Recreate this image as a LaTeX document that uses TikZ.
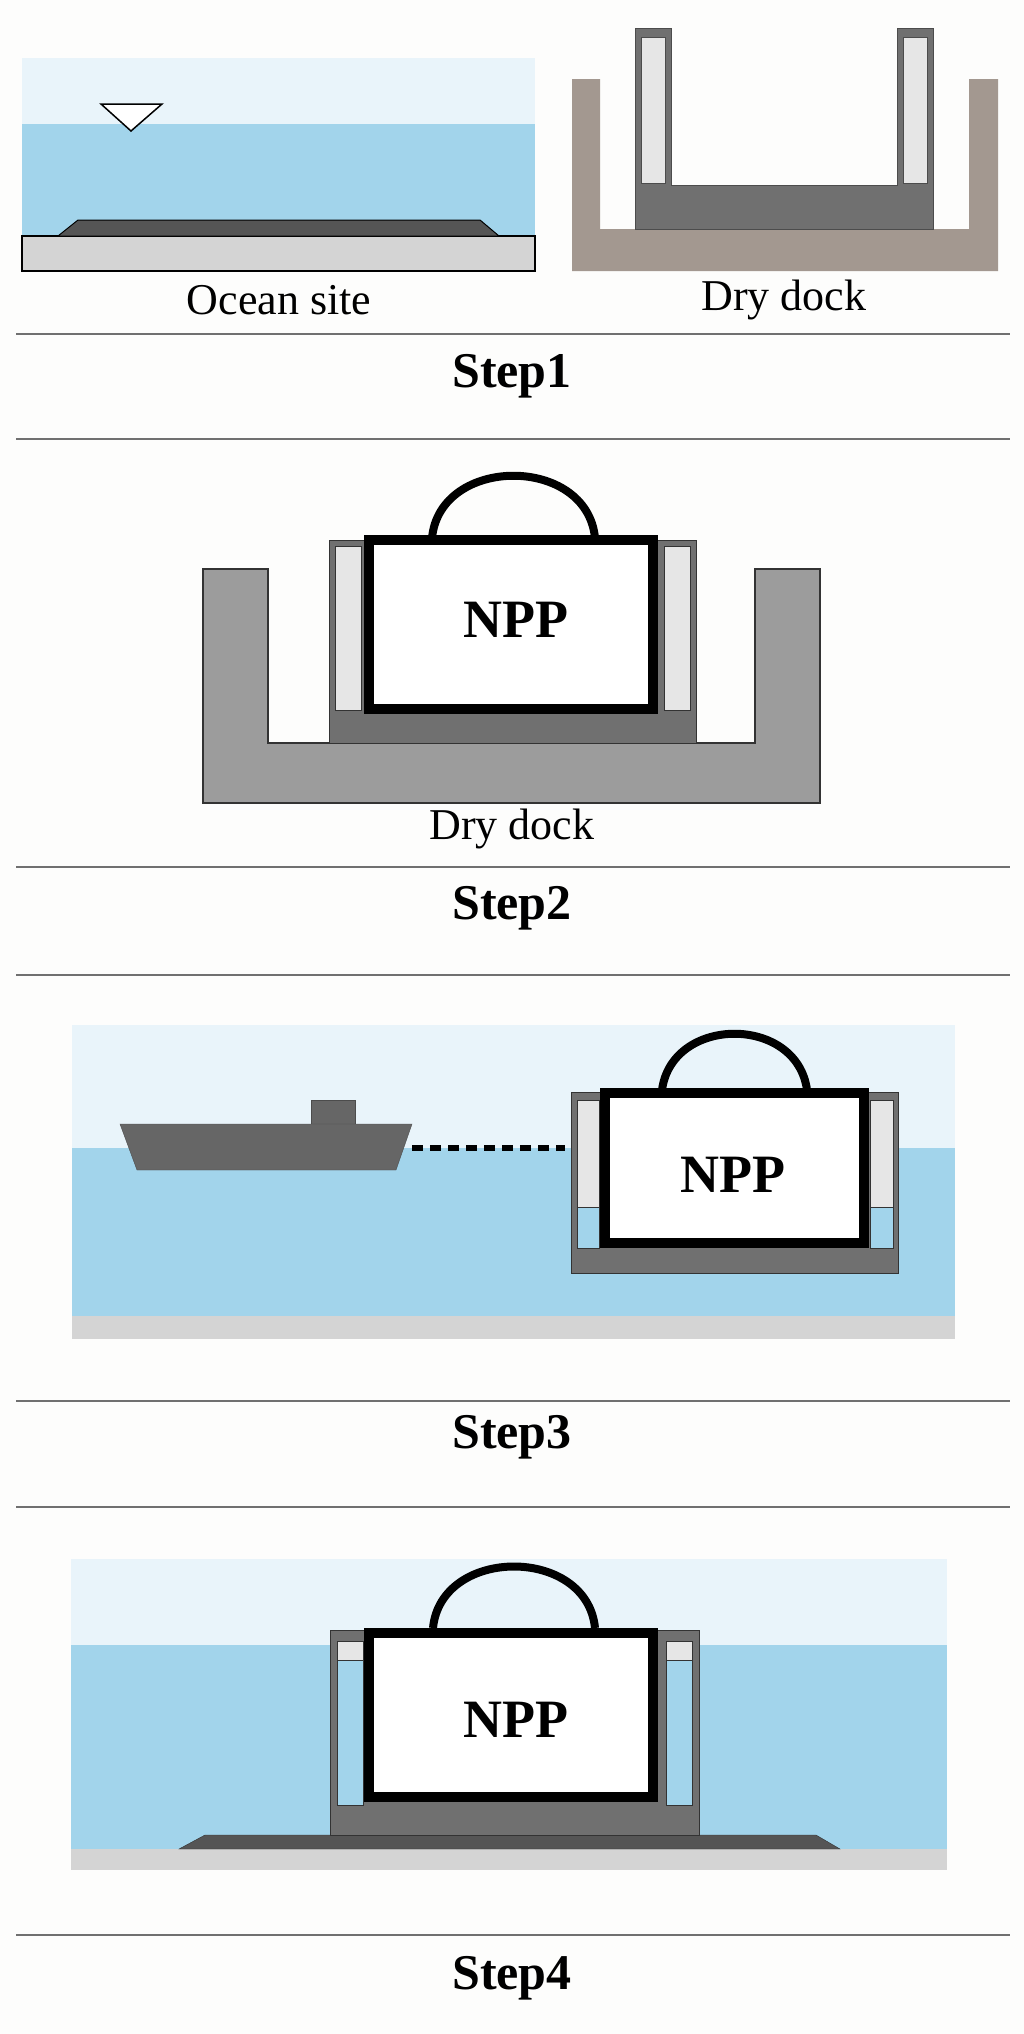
\documentclass[tikz,border=0pt]{standalone}
\usepackage{fontspec}
\setmainfont{Liberation Serif}
\begin{document}
\begin{tikzpicture}[x=1pt,y=-1pt,
  sky/.style={fill=skyc},water/.style={fill=waterc},
  sep/.style={draw=linec,line width=2.5pt},
  lbl/.style={font=\fontsize{44}{46}\selectfont},
  steplbl/.style={font=\bfseries\fontsize{50}{52}\selectfont},
  nppbox/.style={line width=10pt},
  dome/.style={line width=8pt},
  nppt/.style={font=\bfseries\fontsize{54}{56}\selectfont}]
\definecolor{skyc}{HTML}{E9F4FA}
\definecolor{waterc}{HTML}{A2D4EB}
\definecolor{groundc}{HTML}{D4D4D4}
\definecolor{bermc}{HTML}{555555}
\definecolor{brownc}{HTML}{A39890}
\definecolor{bargec}{HTML}{707070}
\definecolor{colc}{HTML}{E6E6E6}
\definecolor{dockc}{HTML}{9C9C9C}
\definecolor{linec}{HTML}{707070}
\definecolor{bgc}{HTML}{FDFDFC}
\useasboundingbox (0,0) rectangle (1024,2034);
\fill[bgc] (0,0) rectangle (1024,2034);
% ---------- Step 1: ocean site
\fill[sky] (22,58) rectangle (535,124);
\fill[water] (22,124) rectangle (535,236);
\draw[fill=groundc,line width=1.2pt] (22,236) rectangle (535,271);
\draw[fill=bermc,line width=1pt] (58,236) -- (78,220) -- (480,220) -- (499,236) -- cycle;
\draw[fill=white,line width=1.5pt] (101,104) -- (162,104) -- (131,131) -- cycle;
\node[lbl] (ocean) at (279,300) {Ocean site};
% ---------- Step 1: dry dock
\fill[brownc] (572,79) -- (600,79) -- (600,229) -- (969,229) -- (969,79) -- (998,79) -- (998,271) -- (572,271) -- cycle;
\draw[fill=bargec,draw=black!70,line width=1pt] (635,29) -- (671,29) -- (671,185) -- (897,185) -- (897,29) -- (933,29) -- (933,229) -- (635,229) -- cycle;
\draw[fill=colc,draw=black!70] (641,37) rectangle (665,183);
\draw[fill=colc,draw=black!70] (903,37) rectangle (927,183);
\node[lbl] (dd1) at (784,300) {Dry dock};
\draw[sep] (16,334) -- (1010,334);
\node[steplbl] (s1) at (512,376) {Step1};
\draw[sep] (16,439) -- (1010,439);
% ---------- Step 2
\draw[fill=dockc,draw=black!80,line width=1.2pt] (203,569) -- (268,569) -- (268,743) -- (755,743) -- (755,569) -- (820,569) -- (820,803) -- (203,803) -- cycle;
\draw[fill=bargec,draw=black!80,line width=1pt] (329,540) rectangle (696,743);
\draw[fill=colc,draw=black!80] (335,546) rectangle (361,710);
\draw[fill=colc,draw=black!80] (664,546) rectangle (690,710);
\draw[dome] (432,538) .. controls (440,455) and (587,455) .. (595,538);
\draw[nppbox,fill=white] (369,540) rectangle (653,709);
\node[nppt] (npp2) at (516,620) {NPP};
\node[lbl] (dd2) at (512,829) {Dry dock};
\draw[sep] (16,867) -- (1010,867);
\node[steplbl] (s2) at (512,908) {Step2};
\draw[sep] (16,975) -- (1010,975);
% ---------- Step 3
\fill[sky] (72,1025) rectangle (955,1148);
\fill[water] (72,1148) rectangle (955,1316);
\fill[groundc] (72,1316) rectangle (955,1339);
\draw[fill=bermc!90,draw=black!70] (311,1100) rectangle (355,1124);
\draw[fill=bermc!90,draw=black!70] (120,1124) -- (412,1124) -- (396,1170) -- (137,1170) -- cycle;
\coordinate (ship) at (412,1148);
\draw[fill=bargec,draw=black!80,line width=1pt] (571,1092) rectangle (898,1273);
\draw[fill=colc,draw=black!80] (577,1100) rectangle (599,1248);
\draw[fill=waterc,draw=black!80] (577,1207) rectangle (599,1248);
\draw[fill=colc,draw=black!80] (870,1100) rectangle (893,1248);
\draw[fill=waterc,draw=black!80] (870,1207) rectangle (893,1248);
\draw[dome] (662,1090) .. controls (672,1015) and (797,1015) .. (807,1090);
\draw[nppbox,fill=white] (605,1093) rectangle (864,1243);
\node[nppt] (npp3) at (733,1175) {NPP};
\coordinate (barge) at (565,1148);
\draw[line width=6pt,dash pattern=on 11pt off 7pt] (ship) -- (barge);
\draw[sep] (16,1401) -- (1010,1401);
\node[steplbl] (s3) at (512,1437) {Step3};
\draw[sep] (16,1507) -- (1010,1507);
% ---------- Step 4
\fill[sky] (71,1559) rectangle (947,1645);
\fill[water] (71,1645) rectangle (947,1849);
\fill[groundc] (71,1849) rectangle (947,1870);
\draw[fill=bermc,draw=black!80] (179,1849) -- (205,1835) -- (816,1835) -- (840,1849) -- cycle;
\draw[fill=bargec,draw=black!80,line width=1pt] (330,1630) rectangle (699,1835);
\draw[fill=colc,draw=black!80] (337,1641) rectangle (363,1805);
\draw[fill=waterc,draw=black!80] (337,1660) rectangle (363,1805);
\draw[fill=colc,draw=black!80] (666,1641) rectangle (692,1805);
\draw[fill=waterc,draw=black!80] (666,1660) rectangle (692,1805);
\draw[dome] (433,1628) .. controls (441,1546) and (587,1546) .. (595,1628);
\draw[nppbox,fill=white] (369,1633) rectangle (653,1797);
\node[nppt] (npp4) at (516,1720) {NPP};
\draw[sep] (16,1935) -- (1010,1935);
\node[steplbl] (s4) at (512,1978) {Step4};
\end{tikzpicture}
\end{document}
